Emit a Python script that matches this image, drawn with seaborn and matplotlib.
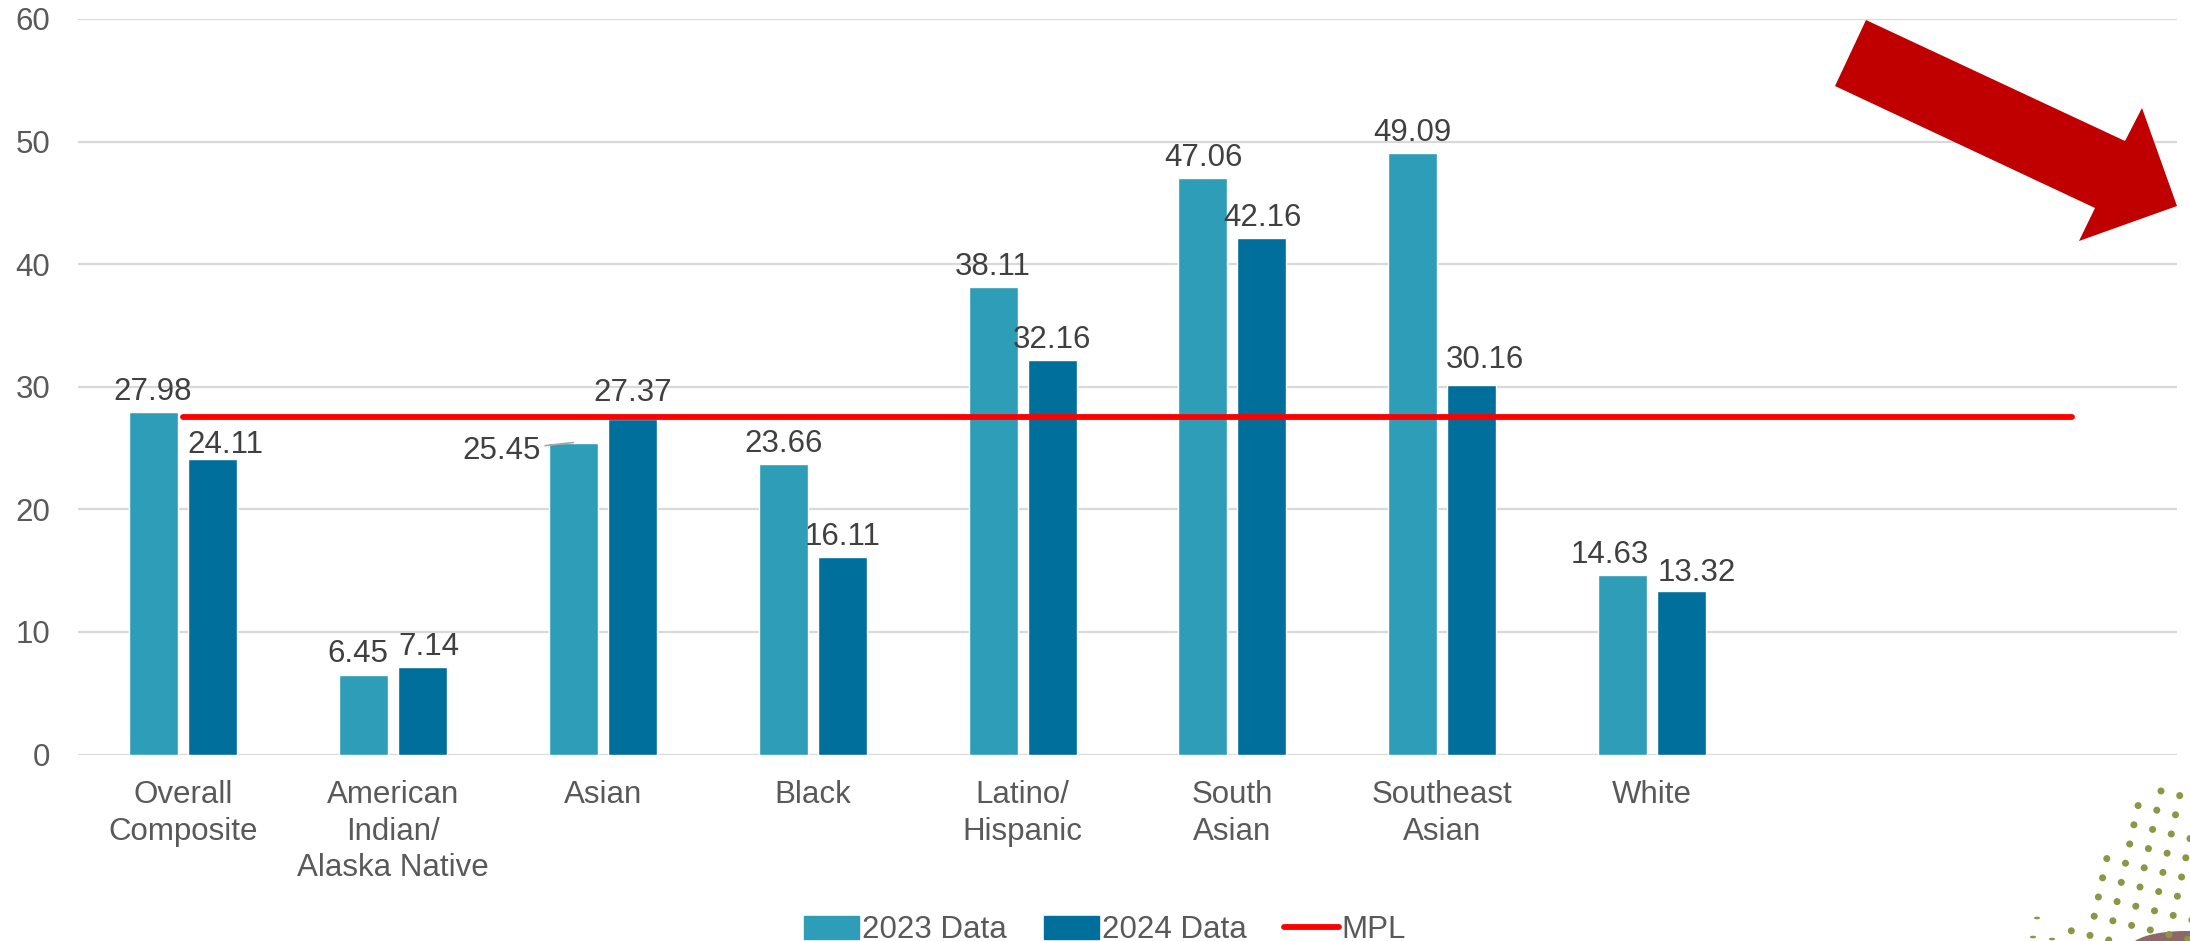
import numpy as np
import pandas as pd
import matplotlib
matplotlib.use("Agg")
import matplotlib.pyplot as plt
from matplotlib.patches import Patch, Polygon, Ellipse, Circle
from matplotlib.collections import CircleCollection
from matplotlib.lines import Line2D
import seaborn as sns

# ---- data ----
categories = ["Overall\nComposite", "American\nIndian/\nAlaska Native", "Asian", "Black",
              "Latino/\nHispanic", "South\nAsian", "Southeast\nAsian", "White"]
data_2023 = [27.98, 6.45, 25.45, 23.66, 38.11, 47.06, 49.09, 14.63]
data_2024 = [24.11, 7.14, 27.37, 16.11, 32.16, 42.16, 30.16, 13.32]
mpl_values = [27.5, 27.5, 27.5, 27.5, 27.5, 27.5, 27.5, 27.5, 27.5, 27.5]
series_names = ["2023 Data", "2024 Data"]
y_ticks = [0, 10, 20, 30, 40, 50, 60]

# ---- style ----
C23 = "#2E9DB7"
C24 = "#006F9C"
RED = "#FF0000"
TICK_C = "#595959"
LABEL_C = "#404040"
GRID_C = "#D9D9D9"
FS = 22.5

sns.set_theme(style="white")
plt.rcParams["font.family"] = ["Liberation Sans", "DejaVu Sans"]

W, H = 2190, 941
fig = plt.figure(figsize=(W / 100, H / 100), dpi=100)
ax = fig.add_axes([78 / W, 1 - 754.5 / H, (2177 - 78) / W, (754.5 - 19) / H])

df = pd.DataFrame({
    "group": categories * 2,
    "value": data_2023 + data_2024,
    "series": [series_names[0]] * len(categories) + [series_names[1]] * len(categories),
})

sns.barplot(data=df, x="group", y="value", hue="series", order=categories,
            hue_order=series_names, palette=[C23, C24], width=0.562, gap=0.17,
            saturation=1, legend=False, ax=ax, zorder=2)

sns.lineplot(x=np.arange(len(mpl_values)), y=mpl_values, color=RED, linewidth=4.2,
             ax=ax, zorder=4, solid_capstyle="round")

ax.set_xlim(-0.5, 9.5)
ax.set_ylim(0, 60)
ax.set_yticks(y_ticks)
ax.set_xlabel("")
ax.set_ylabel("")
ax.set_xticks(range(len(categories)))
ax.set_xticklabels(categories)
ax.tick_params(axis="x", length=0, pad=18.6, labelsize=FS, labelcolor=TICK_C)
ax.tick_params(axis="y", length=0, pad=20, labelsize=FS, labelcolor=TICK_C)
for lbl in ax.get_xticklabels():
    lbl.set_linespacing(1.27)
for s in ax.spines.values():
    s.set_visible(False)
ax.yaxis.grid(True, color=GRID_C, linewidth=1.6, zorder=0)
ax.set_axisbelow(True)

# value label offsets (dx, dy) in pixels relative to bar top-centre
label_offsets = [
    [(-1, 12), (-5.5, 13), (-72, -16), (0, 12), (0, 12), (0, 12), (0, 12), (-13, 12)],
    [(12.5, 6), (7, 12), (0, 18), (0, 12), (0, 12), (0, 12), (13, 17), (15, 10)],
]
series_vals = [data_2023, data_2024]
for s_idx, cont in enumerate(ax.containers[:2]):
    for c_idx, bar in enumerate(cont):
        val = series_vals[s_idx][c_idx]
        xc = bar.get_x() + bar.get_width() / 2
        dx, dy = label_offsets[s_idx][c_idx]
        kw = {}
        if dy < 0:
            kw["arrowprops"] = dict(arrowstyle="-", color="#A6A6A6", lw=1.2,
                                    shrinkA=1, shrinkB=0)
        ax.annotate(f"{val:.2f}", xy=(xc, val), xytext=(dx * 0.72, dy * 0.72),
                    textcoords="offset points", ha="center", va="baseline",
                    fontsize=FS, color=LABEL_C, zorder=5, **kw)

# legend
handles = [Patch(facecolor=C23, edgecolor=C23),
           Patch(facecolor=C24, edgecolor=C24),
           Line2D([0], [0], color=RED, linewidth=4.2, solid_capstyle="round")]
leg = fig.legend(handles, series_names + ["MPL"], loc="center",
                 bbox_to_anchor=(1105 / W, 1 - 930 / H), ncol=3, frameon=False,
                 fontsize=FS, handlelength=1.75, handleheight=0.75,
                 handletextpad=0.1, columnspacing=1.2, borderaxespad=0)
for t in leg.get_texts():
    t.set_color(TICK_C)

# decorative red trend arrow (figure pixel coordinates)
arrow_px = [(1866, 20), (2125, 141), (2142, 108), (2177, 206),
            (2079, 241), (2095, 208), (1835, 86)]
arrow_pts = [(x / W, 1 - y / H) for x, y in arrow_px]
fig.add_artist(Polygon(arrow_pts, closed=True, facecolor="#C00000",
                       edgecolor="none", transform=fig.transFigure, zorder=10))

# decorative dot pattern in the lower-right corner
origin = np.array([2161.0, 791.0])
va_ = np.array([18.7, 4.6])
vb_ = np.array([-4.2, 19.2])
first_col = {0: 0, 1: -1, 2: -1, 3: -1, 4: -2, 5: -2, 6: -2, 7: -2, 8: -3, 9: -4}
pts = []
for j in range(10):
    for i in range(first_col[j], 6):
        p = origin + i * va_ + j * vb_
        if p[0] < W + 3 and p[1] < H + 3:
            pts.append(p)
pts = np.array(pts)
fig.add_artist(CircleCollection(
    [20] * len(pts), offsets=[(x / W, 1 - y / H) for x, y in pts],
    offset_transform=fig.transFigure, facecolors="#8D9645", edgecolors="none",
    zorder=9))
for x, y in [(2037, 918), (2033, 937), (2052, 939)]:
    fig.add_artist(Circle((x / W, 1 - y / H), 0.0014, transform=fig.transFigure,
                          facecolor="#8D9645", edgecolor="none", zorder=9))
# corner photo fragment
fig.add_artist(Ellipse((2185 / W, 1 - 948 / H), 110 / W, 34 / H,
                       transform=fig.transFigure, facecolor="#7A4E4E",
                       edgecolor="none", alpha=0.85, zorder=8))

fig.savefig("out.png", dpi=100)
